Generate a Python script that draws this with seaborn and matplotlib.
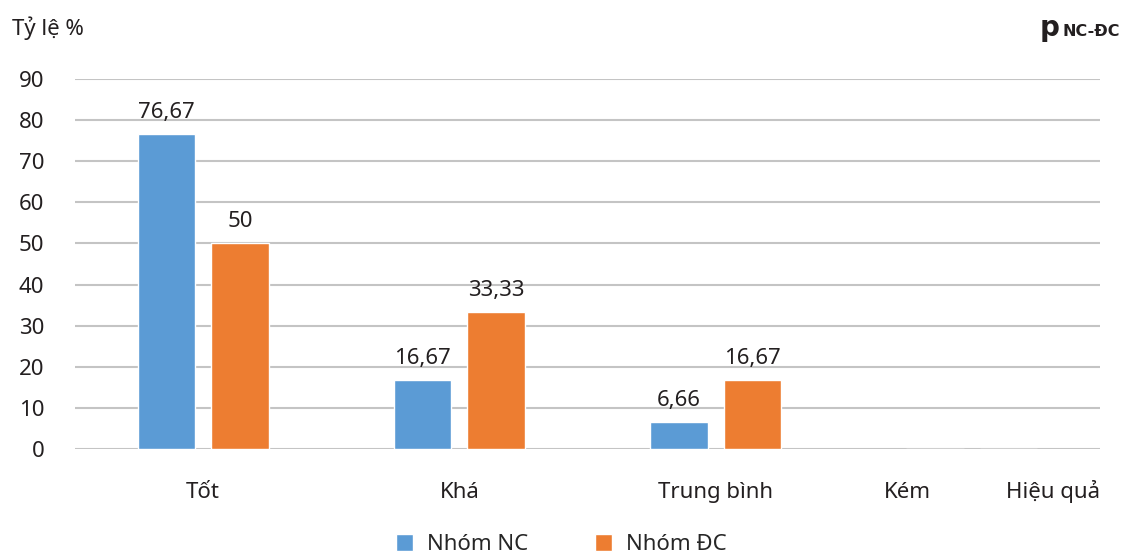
import numpy as np
import pandas as pd
import matplotlib
matplotlib.use("Agg")
import matplotlib.pyplot as plt
import seaborn as sns

# Du lieu doc tu bieu do
categories = ["Tốt", "Khá", "Trung bình", "Kém"]
nhom_nc = [76.67, 16.67, 6.66, 0]
nhom_dc = [50, 33.33, 16.67, 0]
groups = ["Nhóm NC", "Nhóm ĐC"]
yticks = [0, 10, 20, 30, 40, 50, 60, 70, 80, 90]

df = pd.DataFrame({
    "cat": categories * 2,
    "group": [groups[0]] * len(categories) + [groups[1]] * len(categories),
    "value": nhom_nc + nhom_dc,
})

sns.set_theme(style="white")
plt.rcParams["font.family"] = ["Noto Sans", "DejaVu Sans"]
FS = 16
TXT = "#231f20"

fig = plt.figure(figsize=(11.22, 5.56), dpi=100)
ax = fig.add_axes([75 / 1122, 1 - 449 / 556, 1025 / 1122, 370 / 556])

sns.barplot(data=df, x="cat", y="value", hue="group", order=categories,
            hue_order=groups, palette=["#5B9BD5", "#ED7D31"], saturation=1,
            width=0.574, gap=0.22, ax=ax, legend=True)

for container in ax.containers:
    labels = [f"{v:g}".replace(".", ",") if v > 0 else "" for v in container.datavalues]
    ax.bar_label(container, labels=labels, padding=8, fontsize=FS, color=TXT)

ax.set_ylim(0, 90)
ax.set_xlim(-0.5, 3.5)
ax.set_yticks(yticks)
ax.yaxis.grid(True, color="#c4c4c4", linewidth=1.5)
ax.set_axisbelow(True)
for s in ax.spines.values():
    s.set_visible(False)
ax.tick_params(axis="y", length=0, pad=22, labelsize=FS, labelcolor=TXT)
ax.tick_params(axis="x", length=0, pad=35, labelsize=FS, labelcolor=TXT)

# nhan Kem lech trai, "Hieu qua" sat mep phai nhu ban goc
ax.set_xticks([0, 1, 2, 2.75, 3.5])
ax.set_xticklabels(categories + ["Hiệu quả"])
for lbl in ax.get_xticklabels():
    lbl.set_va("baseline")
ax.get_xticklabels()[-1].set_ha("right")
ax.set_xlabel("")
ax.set_ylabel("")

fig.text(12 / 1122, 1 - 28 / 556, "Tỷ lệ %", ha="left", va="center",
         fontsize=FS, color=TXT)
fig.text(1059 / 1122, 1 - 28 / 556, "p", ha="right", va="center",
         fontsize=20, fontweight="bold", color=TXT, family="DejaVu Sans")
fig.text(1120 / 1122, 1 - 31 / 556, "NC-ĐC", ha="right", va="center",
         fontsize=11.5, fontweight="bold", color=TXT, family="DejaVu Sans")

handles, labels = ax.get_legend_handles_labels()
ax.get_legend().remove()
fig.legend(handles, labels, loc="lower center", bbox_to_anchor=(0.5, -0.035),
           ncol=2, frameon=False, fontsize=FS, handlelength=0.8,
           handleheight=0.8, columnspacing=3, handletextpad=0.6)

fig.savefig("out.png", dpi=100)
